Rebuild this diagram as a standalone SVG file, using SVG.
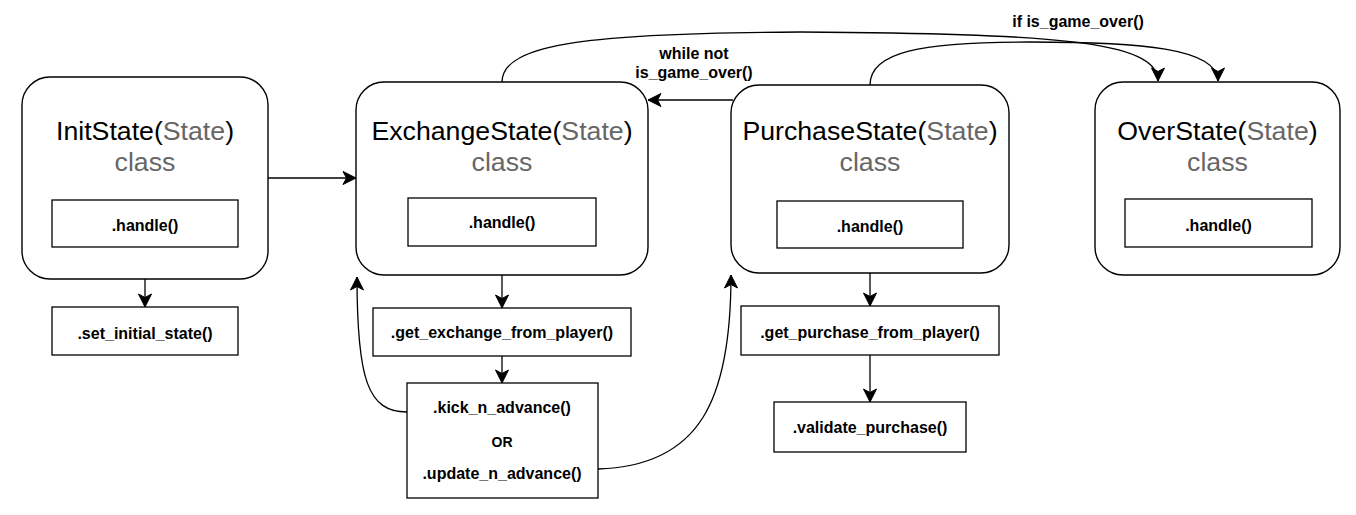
<svg xmlns="http://www.w3.org/2000/svg" width="1356" height="515" viewBox="0 0 1356 515">
<style>
.state{fill:#fff;stroke:#000;stroke-width:1.4}
.box{fill:#fff;stroke:#000;stroke-width:1.3}
.title{font-family:"Liberation Sans",Arial,sans-serif;font-size:26.7px;fill:#000;text-anchor:middle}
.gray{fill:#666666}
.lbl{font-family:"Liberation Sans",Arial,sans-serif;font-size:16px;font-weight:bold;fill:#000;text-anchor:middle}
.edge{fill:none;stroke:#000;stroke-width:1.3}
</style>
<defs>
<marker id="arr" markerUnits="userSpaceOnUse" markerWidth="16" markerHeight="16" viewBox="0 0 16 16" refX="14.5" refY="8" orient="auto">
<path d="M1.5,1.5 L14.5,8 L1.5,14.5 L5,8 Z" fill="#000" stroke="#000" stroke-width="1"/>
</marker>
</defs>
<g id="connectors">
<path class="edge" d="M268,178 L356,178" marker-end="url(#arr)"/>
<path class="edge" d="M145,247 L145,307" marker-end="url(#arr)"/>
<path class="edge" d="M502,246 L502,308" marker-end="url(#arr)"/>
<path class="edge" d="M502,356 L502,383" marker-end="url(#arr)"/>
<path class="edge" d="M733,100 L648,100" marker-end="url(#arr)"/>
<path class="edge" d="M870,273 L870,306" marker-end="url(#arr)"/>
<path class="edge" d="M870,355 L870,402" marker-end="url(#arr)"/>
<path class="edge" d="M407,412 C368,412 357,380 357,277" marker-end="url(#arr)"/>
<path class="edge" d="M598,469 C700,466 731,400 731,275" marker-end="url(#arr)"/>
<path class="edge" d="M502,82 C502,42 600,33 800,32 C1050,34 1158,40 1158,81" marker-end="url(#arr)"/>
<path class="edge" d="M870,85 C870,52 920,42 1030,42 C1140,42 1218,48 1218,81" marker-end="url(#arr)"/>
<text class="lbl" x="694" y="59">while not</text>
<text class="lbl" x="694" y="78">is_game_over()</text>
<text class="lbl" x="1078" y="27">if is_game_over()</text>
</g>
<g id="init-state">
<rect class="state" x="22" y="77" width="246" height="202" rx="28"/>
<text class="title" x="145" y="140">InitState(<tspan class="gray">State</tspan>)</text>
<text class="title gray" x="145" y="171">class</text>
<rect class="box" x="52" y="200" width="186" height="47"/>
<text class="lbl" x="145" y="231">.handle()</text>
</g>
<g id="set-initial-state">
<rect class="box" x="52" y="307" width="186" height="48"/>
<text class="lbl" x="145" y="339">.set_initial_state()</text>
</g>
<g id="exchange-state">
<rect class="state" x="356" y="82" width="292" height="193" rx="28"/>
<text class="title" x="502" y="140">ExchangeState(<tspan class="gray">State</tspan>)</text>
<text class="title gray" x="502" y="171">class</text>
<rect class="box" x="408" y="198" width="188" height="48"/>
<text class="lbl" x="502" y="228">.handle()</text>
</g>
<g id="get-exchange">
<rect class="box" x="373" y="308" width="258" height="48"/>
<text class="lbl" x="502" y="338">.get_exchange_from_player()</text>
</g>
<g id="advance">
<rect class="box" x="407" y="383" width="191" height="115"/>
<text class="lbl" x="502" y="413">.kick_n_advance()</text>
<text class="lbl" x="502" y="447" style="font-size:14px">OR</text>
<text class="lbl" x="502" y="479">.update_n_advance()</text>
</g>
<g id="purchase-state">
<rect class="state" x="731" y="85" width="278" height="188" rx="28"/>
<text class="title" x="870" y="140">PurchaseState(<tspan class="gray">State</tspan>)</text>
<text class="title gray" x="870" y="171">class</text>
<rect class="box" x="777" y="201" width="186" height="47"/>
<text class="lbl" x="870" y="232">.handle()</text>
</g>
<g id="get-purchase">
<rect class="box" x="741" y="306" width="258" height="49"/>
<text class="lbl" x="870" y="338">.get_purchase_from_player()</text>
</g>
<g id="validate-purchase">
<rect class="box" x="774" y="402" width="192" height="50"/>
<text class="lbl" x="870" y="433">.validate_purchase()</text>
</g>
<g id="over-state">
<rect class="state" x="1095" y="82" width="245" height="193" rx="28"/>
<text class="title" x="1217.5" y="140">OverState(<tspan class="gray">State</tspan>)</text>
<text class="title gray" x="1217.5" y="171">class</text>
<rect class="box" x="1125" y="199" width="187" height="48"/>
<text class="lbl" x="1218.5" y="231">.handle()</text>
</g>
</svg>
